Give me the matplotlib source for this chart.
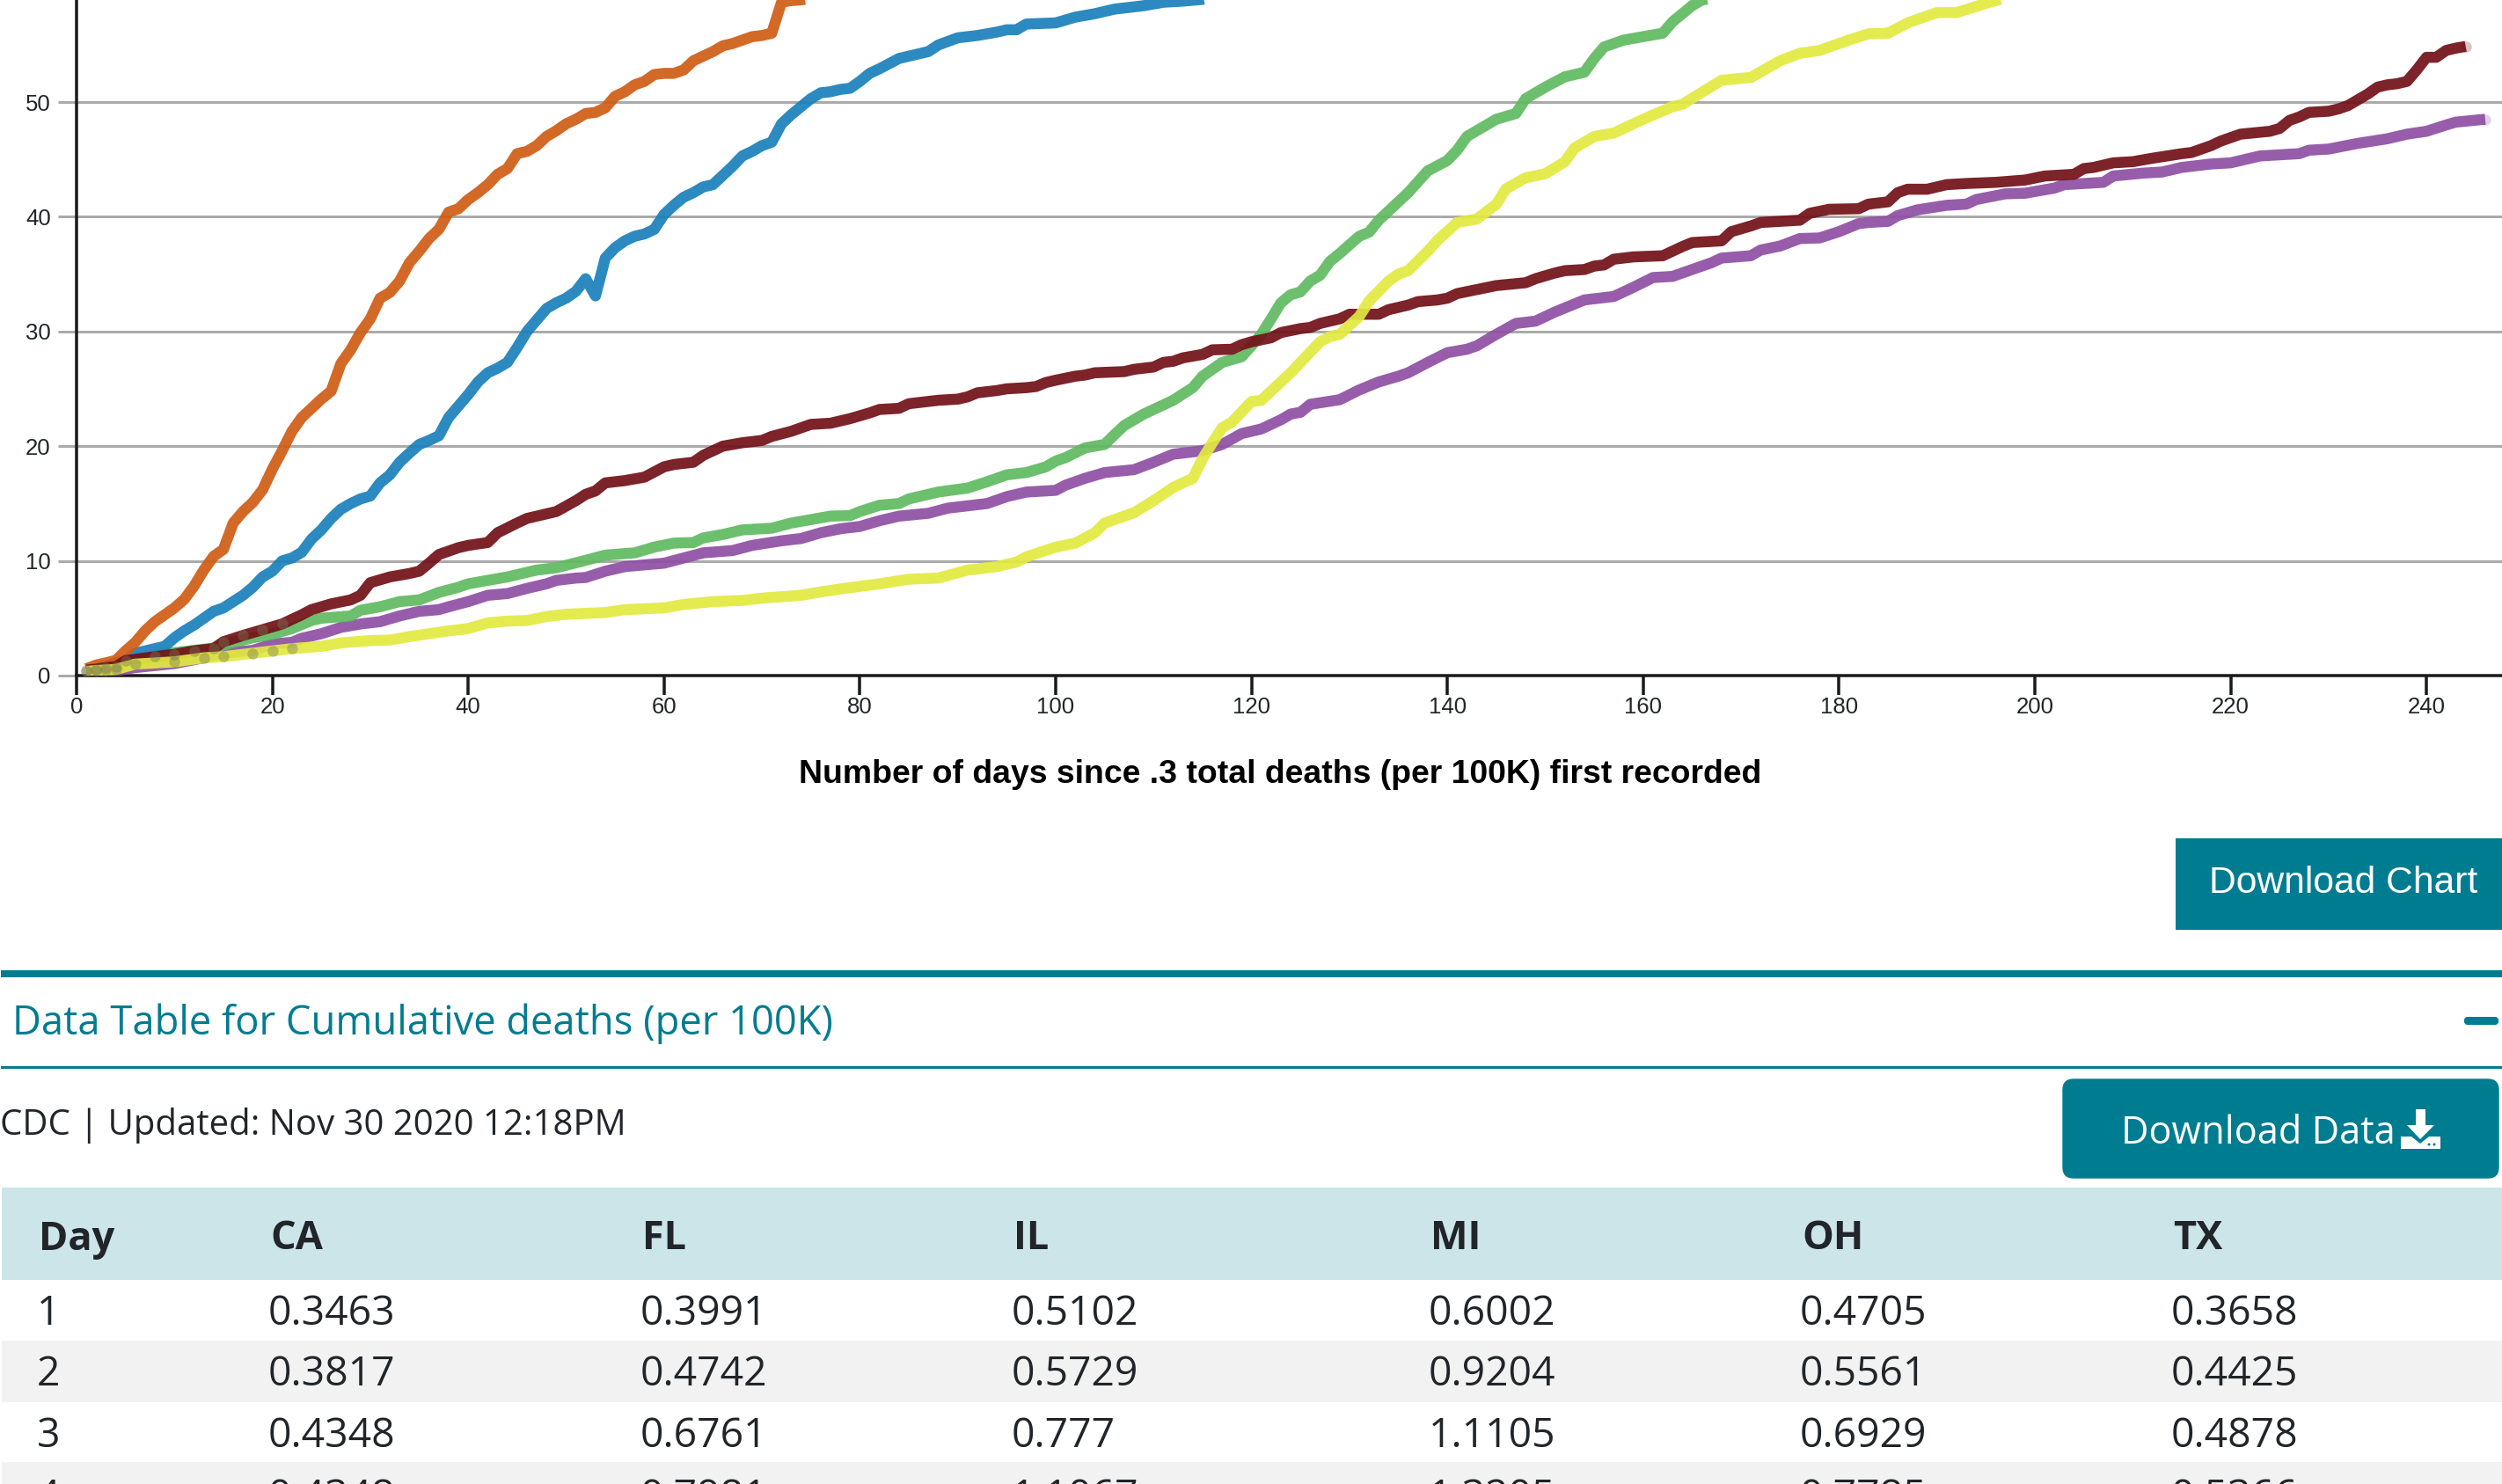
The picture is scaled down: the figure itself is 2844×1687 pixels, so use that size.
import matplotlib
matplotlib.use('Agg')
import matplotlib.pyplot as plt
from matplotlib.patches import FancyBboxPatch, Polygon, Rectangle, Circle

W, H = 2844, 1687
TEAL = '#007c91'
DARK = '#212529'
PX = 72 / 100  # points per pixel at dpi=100

# table, first rows of the data
table_days = [1, 2, 3, 4]
table_states = ['CA', 'FL', 'IL', 'MI', 'OH', 'TX']
ca_first = [0.3463, 0.3817, 0.4348, 0.4348]
fl_first = [0.3991, 0.4742, 0.6761, 0.7981]
il_first = [0.5102, 0.5729, 0.777, 1.1067]
mi_first = [0.6002, 0.9204, 1.1105, 1.3205]
oh_first = [0.4705, 0.5561, 0.6929, 0.7785]
tx_first = [0.3658, 0.4425, 0.4878, 0.5366]

# rest of the curves
ca_days = [6, 10, 13, 15, 18, 20, 22, 23, 25, 27, 29, 31, 33, 35, 37, 38, 40, 42, 44, 46, 48, 49, 51, 52, 54, 56, 58, 60,
           62, 64, 67, 69, 72, 74, 76, 78, 80, 82, 84, 87, 89, 93, 95, 97, 100, 101, 103, 105, 108, 110, 112, 115, 117,
           119, 121, 123, 124, 125, 126, 129, 131, 133, 135, 136, 138, 140, 142, 143, 145, 147, 149, 151, 153, 154, 157,
           159, 161, 163, 165, 167, 168, 171, 172, 174, 176, 178, 180, 182, 183, 185, 186, 188, 191, 193, 194, 197, 199,
           202, 203, 207, 208, 211, 213, 215, 218, 220, 223, 227, 228, 230, 233, 236, 238, 240, 242, 243, 246]
ca_vals = [0.7, 1.05, 1.55, 1.95, 2.2, 2.75, 2.9, 3.25, 3.65, 4.2, 4.5, 4.7, 5.2, 5.6, 5.75, 6.0, 6.45, 7.0, 7.15, 7.6, 8.0,
           8.3, 8.5, 8.55, 9.1, 9.5, 9.65, 9.8, 10.25, 10.7, 10.9, 11.35, 11.75, 11.95, 12.45, 12.8, 13.0, 13.5, 13.9,
           14.15, 14.6, 15.0, 15.6, 16.0, 16.15, 16.6, 17.2, 17.7, 17.95, 18.6, 19.3, 19.6, 20.15, 21.1, 21.5, 22.3, 22.8,
           22.95, 23.65, 24.05, 24.9, 25.6, 26.1, 26.4, 27.3, 28.15, 28.45, 28.75, 29.75, 30.7, 30.9, 31.7, 32.4, 32.75,
           33.05, 33.85, 34.7, 34.8, 35.4, 36.0, 36.4, 36.6, 37.1, 37.45, 38.1, 38.15, 38.7, 39.4, 39.5, 39.6, 40.1, 40.6,
           41.0, 41.1, 41.5, 42.0, 42.05, 42.5, 42.8, 43.0, 43.55, 43.8, 43.9, 44.3, 44.6, 44.7, 45.3, 45.5, 45.8, 45.9,
           46.4, 46.8, 47.2, 47.45, 48.0, 48.25, 48.5]

fl_days = [5, 8, 10, 12, 14, 16, 18, 20, 22, 24, 25, 28, 29, 31, 33, 35, 37, 39, 40, 42, 44, 47, 49, 52, 54, 57, 59, 61, 63,
           64, 66, 68, 71, 73, 75, 77, 79, 80, 82, 84, 85, 88, 91, 93, 95, 97, 99, 100, 101, 103, 105, 106, 107, 109, 112,
           114, 115, 117, 119, 120, 121, 122, 123, 124, 125, 126, 127, 128, 129, 131, 132, 133, 135, 136, 138, 140, 141,
           142, 145, 147, 148, 150, 152, 154, 155, 156, 158, 160, 162, 163, 165, 166, 169]
fl_vals = [1.2, 1.7, 2.0, 2.2, 2.4, 2.9, 3.3, 3.6, 4.1, 4.8, 5.0, 5.2, 5.7, 6.0, 6.45, 6.6, 7.25, 7.7, 8.0, 8.3, 8.6, 9.2,
           9.4, 10.05, 10.5, 10.7, 11.2, 11.55, 11.6, 12.0, 12.3, 12.7, 12.85, 13.3, 13.6, 13.9, 13.95, 14.3, 14.85, 15.0,
           15.4, 16.0, 16.35, 16.9, 17.5, 17.7, 18.2, 18.7, 19.0, 19.85, 20.15, 21.0, 21.8, 22.8, 24.0, 25.1, 26.1, 27.3,
           27.8, 28.75, 29.75, 31.1, 32.5, 33.2, 33.45, 34.4, 34.9, 36.1, 36.8, 38.3, 38.65, 39.7, 41.3, 42.1, 44.0, 44.9,
           45.8, 47.0, 48.5, 49.0, 50.3, 51.3, 52.2, 52.6, 53.8, 54.8, 55.4, 55.7, 56.0, 57.0, 58.4, 58.9, 59.3]

il_days = list(range(5, 83)) + [84, 85, 87, 88, 90, 92, 94, 95, 96, 97, 100, 102, 104, 106, 108, 109, 111, 113, 115, 117]
il_vals = [1.3, 1.95, 2.15, 2.35, 2.55, 3.3, 3.9, 4.4, 5.0, 5.6, 5.9, 6.45, 7.0, 7.7, 8.6, 9.1, 10.0, 10.25, 10.75, 11.9,
           12.7, 13.7, 14.5, 15.0, 15.4, 15.65, 16.8, 17.5, 18.6, 19.4, 20.15, 20.5, 20.9, 22.5, 23.5, 24.5, 25.6, 26.4,
           26.8, 27.3, 28.6, 30.0, 31.0, 32.0, 32.5, 32.9, 33.5, 34.6, 33.1, 36.4, 37.3, 37.9, 38.3, 38.5, 38.9, 40.2, 41.0,
           41.7, 42.1, 42.6, 42.8, 43.6, 44.4, 45.3, 45.7, 46.2, 46.5, 48.1, 48.9, 49.6, 50.3, 50.8, 50.9, 51.1, 51.2, 51.8,
           52.5, 52.9, 53.8, 54.0, 54.4, 54.97, 55.6, 55.8, 56.1, 56.3, 56.3, 56.8, 56.9, 57.4, 57.7, 58.1, 58.3, 58.4, 58.7,
           58.8, 58.95, 59.3]

mi_days = list(range(5, 79))
mi_vals = [2.15, 2.9, 3.9, 4.7, 5.3, 5.9, 6.65, 7.8, 9.2, 10.4, 11.0, 13.3, 14.3, 15.1, 16.2, 18.0, 19.6, 21.3, 22.5, 23.3,
           24.1, 24.8, 27.2, 28.4, 29.9, 31.1, 32.9, 33.4, 34.4, 36.0, 37.0, 38.1, 38.9, 40.4, 40.7, 41.5, 42.1, 42.8, 43.7,
           44.2, 45.5, 45.7, 46.2, 47.0, 47.5, 48.1, 48.5, 49.0, 49.1, 49.5, 50.5, 50.9, 51.5, 51.8, 52.4, 52.5, 52.5, 52.8,
           53.6, 54.0, 54.4, 54.9, 55.1, 55.4, 55.7, 55.8, 56.0, 58.7, 58.85, 58.9, 59.1, 59.5, 60.0, 60.5]

oh_days = [5, 8, 10, 12, 14, 15, 17, 19, 21, 23, 24, 26, 28, 29, 30, 32, 34, 35, 36, 37, 39, 40, 42, 43, 45, 46, 47, 49, 51,
           52, 53, 54, 56, 58, 60, 61, 63, 64, 66, 68, 70, 71, 73, 75, 77, 79, 81, 82, 84, 85, 88, 90, 91, 92, 94, 95, 97,
           98, 99, 100, 102, 103, 104, 107, 108, 110, 111, 112, 113, 115, 116, 118, 119, 120, 122, 123, 125, 126, 127, 129,
           130, 133, 134, 136, 137, 139, 140, 141, 143, 145, 148, 149, 151, 152, 154, 155, 156, 157, 159, 162, 163, 164,
           165, 168, 169, 171, 172, 176, 177, 179, 182, 183, 185, 186, 187, 189, 191, 193, 196, 199, 201, 204, 205, 206,
           208, 210, 212, 215, 216, 217, 218, 219, 221, 224, 225, 226, 227, 228, 230, 231, 232, 234, 235, 236, 237, 238,
           239, 240, 241, 242, 243, 244]
oh_vals = [1.3, 1.65, 1.85, 2.15, 2.35, 2.95, 3.5, 4.0, 4.5, 5.3, 5.75, 6.25, 6.6, 7.0, 8.1, 8.6, 8.9, 9.1, 9.8, 10.55, 11.15,
           11.35, 11.6, 12.45, 13.3, 13.7, 13.9, 14.3, 15.25, 15.8, 16.1, 16.8, 17.0, 17.3, 18.2, 18.4, 18.6, 19.2, 20.0, 20.3,
           20.5, 20.85, 21.3, 21.9, 22.0, 22.4, 22.9, 23.2, 23.3, 23.7, 24.0, 24.1, 24.3, 24.65, 24.85, 25.0, 25.1, 25.2, 25.55,
           25.75, 26.1, 26.2, 26.4, 26.5, 26.7, 26.9, 27.3, 27.4, 27.7, 28.0, 28.4, 28.45, 28.85, 29.1, 29.45, 29.9, 30.25,
           30.35, 30.7, 31.1, 31.5, 31.5, 31.9, 32.3, 32.6, 32.75, 32.9, 33.3, 33.65, 34.0, 34.25, 34.6, 35.1, 35.3, 35.4, 35.7,
           35.8, 36.3, 36.5, 36.6, 37.0, 37.4, 37.75, 37.9, 38.7, 39.2, 39.5, 39.7, 40.3, 40.65, 40.7, 41.1, 41.3, 42.1, 42.4,
           42.4, 42.8, 42.9, 43.0, 43.2, 43.55, 43.7, 44.2, 44.3, 44.7, 44.8, 45.1, 45.5, 45.6, 45.9, 46.2, 46.6, 47.2, 47.45,
           47.7, 48.4, 48.7, 49.1, 49.2, 49.4, 49.7, 50.7, 51.3, 51.5, 51.6, 51.8, 52.8, 53.9, 53.9, 54.5, 54.7, 54.85]

tx_days = [6, 10, 13, 15, 18, 20, 22, 25, 27, 30, 32, 34, 36, 38, 40, 42, 44, 46, 48, 50, 54, 56, 60, 62, 65, 68, 70, 74, 76,
           78, 82, 85, 88, 91, 94, 96, 97, 100, 102, 104, 105, 108, 110, 112, 114, 115, 116, 117, 118, 120, 121, 124, 127,
           128, 129, 131, 132, 134, 135, 136, 138, 139, 141, 143, 145, 146, 148, 150, 152, 153, 155, 157, 160, 163, 164,
           166, 168, 171, 174, 176, 178, 181, 183, 185, 187, 190, 192, 195, 197, 198]
tx_vals = [1.0, 1.2, 1.55, 1.65, 1.95, 2.15, 2.35, 2.55, 2.85, 3.05, 3.1, 3.4, 3.65, 3.9, 4.1, 4.6, 4.75, 4.8, 5.15, 5.35, 5.5,
           5.75, 5.9, 6.2, 6.45, 6.55, 6.75, 7.0, 7.3, 7.55, 8.0, 8.4, 8.5, 9.2, 9.5, 9.9, 10.35, 11.2, 11.55, 12.45, 13.3,
           14.2, 15.25, 16.4, 17.2, 18.9, 20.3, 21.6, 22.1, 23.9, 24.0, 26.4, 29.1, 29.55, 29.75, 31.3, 32.65, 34.4, 35.0, 35.3,
           37.0, 37.95, 39.5, 39.8, 41.1, 42.45, 43.4, 43.75, 44.8, 46.0, 47.0, 47.3, 48.5, 49.6, 49.8, 50.85, 51.9, 52.15,
           53.6, 54.25, 54.5, 55.4, 55.95, 56.0, 56.9, 57.8, 57.8, 58.6, 59.1, 59.5]

x_ticks = [0, 20, 40, 60, 80, 100, 120, 140, 160, 180, 200, 220, 240]
y_ticks = [0, 10, 20, 30, 40, 50]
x_title = 'Number of days since .3 total deaths (per 100K) first recorded'

ca_color = '#8e4fa4'
fl_color = '#60ba5f'
il_color = '#1a80bb'
mi_color = '#d05c14'
oh_color = '#721018'
tx_color = '#e2ea40'

fig = plt.figure(figsize=(W / 100, H / 100), dpi=100, facecolor='white')

# page furniture in pixel coordinates
page = fig.add_axes([0, 0, 1, 1])
page.set_xlim(0, W)
page.set_ylim(H, 0)
page.axis('off')


def box(x0, y0, x1, y1, color):
    page.add_patch(Rectangle((x0, y0), x1 - x0, y1 - y0, fc=color, ec='none'))


box(2473, 953, W, 1057, TEAL)
page.text(2664, 1004, 'Download Chart', color='white', family='Liberation Sans', fontsize=30.7, ha='center', va='center')
box(1, 1103, W, 1111, TEAL)
box(1, 1212, W, 1215, TEAL)
page.text(14, 1164, 'Data Table for Cumulative deaths (per 100K)', color=TEAL, family='Open Sans', fontsize=32.7, va='center')
page.add_patch(FancyBboxPatch((2802, 1157), 37, 7, boxstyle='round,pad=0,rounding_size=3', fc=TEAL, ec=TEAL, lw=1.5))
page.text(0, 1279, 'CDC | Updated: Nov 30 2020 12:18PM', color=DARK, family='Open Sans', fontsize=28.9, va='center')

page.add_patch(FancyBboxPatch((2345, 1227), 495, 112, boxstyle='round,pad=0,rounding_size=12', fc=TEAL, ec=TEAL, lw=1))
page.text(2411, 1289, 'Download Data', color='white', family='Open Sans', fontsize=31.2, va='center')
# download icon
page.add_patch(Rectangle((2746, 1261), 11, 20, fc='white', ec='none'))
page.add_patch(Polygon([(2736, 1279), (2767, 1279), (2751, 1295)], fc='white', ec='none'))
page.add_patch(Polygon([(2729, 1292), (2741, 1292), (2751, 1300), (2761, 1292), (2774, 1292), (2774, 1306), (2729, 1306)],
                       fc='white', ec='none'))
page.add_patch(Circle((2761, 1301), 1.5, fc=TEAL, ec='none'))
page.add_patch(Circle((2767, 1301), 1.5, fc=TEAL, ec='none'))

# table
col_x = [42, 305, 728, 1150, 1624, 2046, 2468]
row_y = [1494, 1563, 1633, 1703]
box(2, 1350, W, 1455, '#cce5e9')
box(2, 1524, W, 1594, '#f2f2f2')
box(2, 1662, W, H, '#f2f2f2')
for x, label in zip(col_x, ['Day'] + table_states):
    page.text(x + 2, 1409, label, color=DARK, family='Open Sans', fontweight='bold', fontsize=32.5, va='center')
columns = [table_days, ca_first, fl_first, il_first, mi_first, oh_first, tx_first]
for x, column in zip(col_x, columns):
    for y, v in zip(row_y, column):
        page.text(x, y, str(v), color=DARK, family='Open Sans', fontsize=33.3, va='center', clip_on=True)

# chart
ax = fig.add_axes([87 / W, 1 - 768 / H, 1 - 87 / W, 768 / H])
ax.patch.set_alpha(0)
ax.set_xlim(0, (W - 87) / 11.13)
ax.set_ylim(0, 768 / 13.04)
for s in ['top', 'right']:
    ax.spines[s].set_visible(False)
for s in ['left', 'bottom']:
    ax.spines[s].set_linewidth(3.5 * PX)
    ax.spines[s].set_color('#1a1a1a')

ax.set_xticks(x_ticks)
ax.set_yticks(y_ticks)
ax.grid(axis='y', color='#aaaaaa', lw=3 * PX)
ax.set_axisbelow(True)
ax.tick_params(axis='x', length=22 * PX, width=3.5 * PX, color='#1a1a1a', pad=1.5, labelsize=18.5, labelcolor=DARK)
ax.tick_params(axis='y', length=21 * PX, width=3 * PX, color='#aaaaaa', pad=6, labelsize=18.5, labelcolor=DARK)
ax.yaxis.get_major_ticks()[0].tick1line.set_color('#1a1a1a')
ax.yaxis.get_major_ticks()[0].gridline.set_visible(False)
for t in ax.get_xticklabels() + ax.get_yticklabels():
    t.set_family('Liberation Sans')
ax.set_xlabel(x_title, family='Liberation Sans', fontweight='bold', fontsize=26.9, color='black')
ax.xaxis.set_label_coords((1455 - 87) / (W - 87), -95 / 768)

series = [
    (ca_first + ca_vals, table_days + ca_days, ca_color),
    (fl_first + fl_vals, table_days + fl_days, fl_color),
    (il_first + il_vals, table_days + il_days, il_color),
    (mi_first + mi_vals, table_days + mi_days, mi_color),
    (oh_first + oh_vals, table_days + oh_days, oh_color),
    (tx_first + tx_vals, table_days + tx_days, tx_color),
]
for vals, days, color in series:
    ax.plot(days, vals, color=color, lw=12.5 * PX, alpha=0.92, solid_joinstyle='round', solid_capstyle='butt', zorder=3)
    # pale end dot, only where the curve ends inside the plot
    if vals[-1] < ax.get_ylim()[1]:
        ax.plot(days[-1], vals[-1], 'o', color=color, ms=12.5 * PX, mew=0, alpha=0.25, zorder=3)

# faint day markers showing through at the start of the curves
for vals, days, color in [series[4], series[5]]:
    early_days = [d for d in days if d <= 22]
    early_vals = vals[:len(early_days)]
    ax.plot(early_days, early_vals, 'o', color='#7a7a55', ms=12.5 * PX, mew=0, alpha=0.4, zorder=4)

fig.savefig('out.png', dpi=100)
